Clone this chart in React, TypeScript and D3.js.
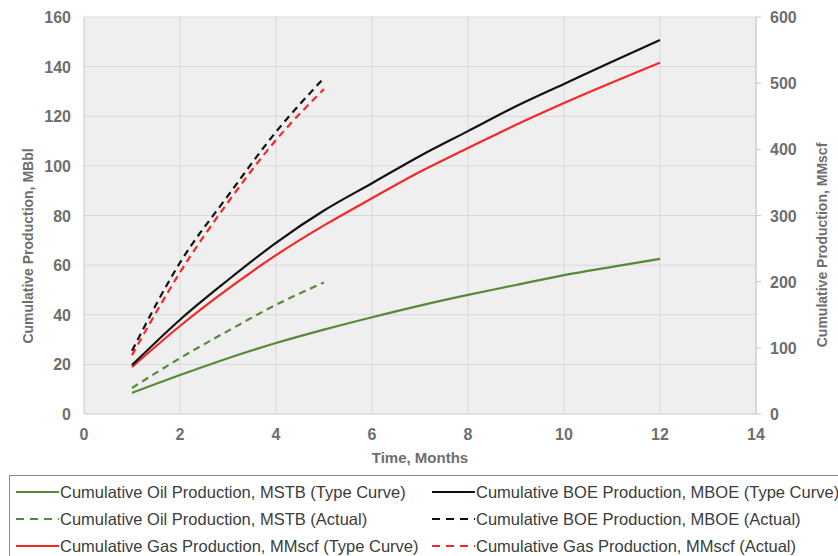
import React, { useEffect, useRef } from "react";
import * as d3 from "d3";

// months for the type curves and for the actual production
const typeMonths = [1, 2, 3, 4, 5, 6, 7, 8, 9, 10, 11, 12];
const actualMonths = [1, 2, 3, 4, 5];

// left axis, MBbl / MSTB / MBOE
const oilType = [8.5, 15.7, 22.5, 28.6, 34, 39, 43.7, 48, 52, 56, 59.3, 62.5];
const boeType = [19.7, 38, 54, 69, 82, 93, 104, 114, 124, 133, 142, 150.7];
const oilActual = [10.5, 22.5, 33.5, 44, 53];
const boeActual = [25.5, 61, 88, 113.7, 135.4];

// right axis, MMscf
const gasType = [71, 133, 189, 240, 285, 326, 366, 402, 437, 470, 501, 531];
const gasActual = [89, 214, 320, 414, 491];

const xTicks = [0, 2, 4, 6, 8, 10, 12, 14];
const leftTicks = [0, 20, 40, 60, 80, 100, 120, 140, 160];
const rightTicks = [0, 100, 200, 300, 400, 500, 600];

const GREEN = "#558a38";
const RED = "#f52828";
const BLACK = "#111111";

const legendItems = [
  { label: "Cumulative Oil Production, MSTB (Type Curve)", color: GREEN, dash: false },
  { label: "Cumulative BOE Production, MBOE (Type Curve)", color: BLACK, dash: false },
  { label: "Cumulative Oil Production, MSTB (Actual)", color: GREEN, dash: true },
  { label: "Cumulative BOE Production, MBOE (Actual)", color: BLACK, dash: true },
  { label: "Cumulative Gas Production, MMscf (Type Curve)", color: RED, dash: false },
  { label: "Cumulative Gas Production, MMscf (Actual)", color: RED, dash: true },
];

const W = 838;
const H = 556;

export default function App() {
  const ref = useRef<SVGSVGElement>(null);

  useEffect(() => {
    const svg = d3.select(ref.current);
    svg.selectAll("*").remove();

    const margin = { top: 17, right: 82, bottom: 142, left: 84 };
    const font = "'Liberation Sans', Arial, sans-serif";

    const x = d3.scaleLinear().domain([0, 14]).range([margin.left, W - margin.right]);
    const yL = d3.scaleLinear().domain([0, 160]).range([H - margin.bottom, margin.top]);
    const yR = d3.scaleLinear().domain([0, 600]).range([H - margin.bottom, margin.top]);

    // plot background
    svg.append("rect")
      .attr("x", x(0)).attr("y", yL(160))
      .attr("width", x(14) - x(0)).attr("height", yL(0) - yL(160))
      .attr("fill", "#efefef");

    // gridlines
    svg.append("g").selectAll("line").data(leftTicks.slice(1)).join("line")
      .attr("x1", x(0)).attr("x2", x(14))
      .attr("y1", d => yL(d)).attr("y2", d => yL(d))
      .attr("stroke", "#d9d9d9").attr("stroke-width", 1);
    svg.append("g").selectAll("line").data(xTicks.slice(1)).join("line")
      .attr("x1", d => x(d)).attr("x2", d => x(d))
      .attr("y1", yL(0)).attr("y2", yL(160))
      .attr("stroke", "#d9d9d9").attr("stroke-width", 1);

    // axis lines
    svg.append("line").attr("x1", x(0)).attr("x2", x(0)).attr("y1", yL(0)).attr("y2", yL(160))
      .attr("stroke", "#c8c8c8");
    svg.append("line").attr("x1", x(0)).attr("x2", x(14)).attr("y1", yL(0)).attr("y2", yL(0))
      .attr("stroke", "#c8c8c8");
    svg.append("line").attr("x1", x(14)).attr("x2", x(14)).attr("y1", yL(0)).attr("y2", yL(160))
      .attr("stroke", "#c8c8c8");

    // tick labels
    const tickStyle = (s: any, size = 16) => s.attr("font-family", font).attr("font-size", size)
      .attr("font-weight", "bold").attr("fill", "#6e6e6e");

    svg.append("g").selectAll("text").data(leftTicks).join("text")
      .attr("x", x(0) - 13).attr("y", d => yL(d) + 6)
      .attr("text-anchor", "end").text(d => d).call(tickStyle);

    svg.append("g").selectAll("line").data(rightTicks).join("line")
      .attr("x1", x(14)).attr("x2", x(14) + 5)
      .attr("y1", d => yR(d)).attr("y2", d => yR(d))
      .attr("stroke", "#c8c8c8");
    svg.append("g").selectAll("text").data(rightTicks).join("text")
      .attr("x", x(14) + 14).attr("y", d => yR(d) + 6)
      .attr("text-anchor", "start").text(d => d).call(tickStyle);

    svg.append("g").selectAll("text").data(xTicks).join("text")
      .attr("x", d => x(d)).attr("y", yL(0) + 26)
      .attr("text-anchor", "middle").text(d => d).call(tickStyle);

    // axis titles
    svg.append("text").attr("x", (x(0) + x(14)) / 2).attr("y", yL(0) + 49)
      .attr("text-anchor", "middle").text("Time, Months").call(tickStyle, 15);
    svg.append("text")
      .attr("transform", `translate(33, 246) rotate(-90)`)
      .attr("text-anchor", "middle").text("Cumulative Production, MBbl").call(tickStyle, 14);
    svg.append("text")
      .attr("transform", `translate(827, 245) rotate(-90)`)
      .attr("text-anchor", "middle").text("Cumulative Production, MMscf").call(tickStyle, 14);

    // series
    const drawLine = (xs: number[], ys: number[], yScale: any, color: string, dash: boolean) => {
      const pts = xs.map((m, i) => [m, ys[i]] as [number, number]);
      const line = d3.line<[number, number]>()
        .x(d => x(d[0])).y(d => yScale(d[1]))
        .curve(d3.curveMonotoneX);
      svg.append("path").datum(pts)
        .attr("d", line)
        .attr("fill", "none")
        .attr("stroke", color)
        .attr("stroke-width", 2.2)
        .attr("stroke-dasharray", dash ? "7,5" : null);
    };

    drawLine(typeMonths, oilType, yL, GREEN, false);
    drawLine(actualMonths, oilActual, yL, GREEN, true);
    drawLine(typeMonths, gasType, yR, RED, false);
    drawLine(typeMonths, boeType, yL, BLACK, false);
    drawLine(actualMonths, gasActual, yR, RED, true);
    drawLine(actualMonths, boeActual, yL, BLACK, true);

    // legend
    const legend = svg.append("g");
    legend.append("rect")
      .attr("x", 9.5).attr("y", 475.5).attr("width", 850).attr("height", 90)
      .attr("fill", "#fff").attr("stroke", "#8a8a8a").attr("stroke-width", 1);

    const colX = [16, 432];
    const rowY = [492, 519, 546];
    legendItems.forEach((item, i) => {
      const cx = colX[i % 2];
      const cy = rowY[Math.floor(i / 2)];
      legend.append("line")
        .attr("x1", cx).attr("x2", cx + 43).attr("y1", cy).attr("y2", cy)
        .attr("stroke", item.color).attr("stroke-width", 2.2)
        .attr("stroke-dasharray", item.dash ? "8,6" : null);
      legend.append("text")
        .attr("x", cx + 44).attr("y", cy + 6)
        .attr("font-family", font).attr("font-size", 16.5)
        .attr("fill", "#3c3c3c").text(item.label);
    });
  }, []);

  return (
    <svg ref={ref} width={W} height={H}
      style={{ position: "absolute", left: 0, top: 0, background: "#fff" }} />
  );
}
